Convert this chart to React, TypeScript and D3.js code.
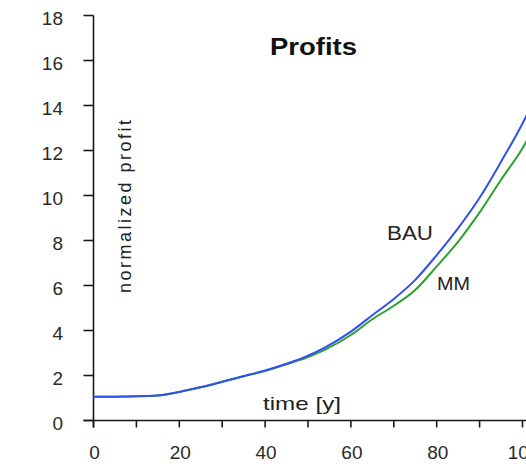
import React from "react";
import * as d3 from "d3";

const years = [0, 14, 20, 25, 30, 35, 40, 45, 50, 54, 60, 65, 70, 75, 80, 85, 90, 95, 100, 105];
const bauValues = [1.05, 1.1, 1.27, 1.48, 1.72, 1.97, 2.22, 2.52, 2.88, 3.25, 3.95, 4.68, 5.4, 6.25, 7.35, 8.55, 9.9, 11.5, 13.2, 15.2];
const mmValues = [1.05, 1.1, 1.27, 1.48, 1.72, 1.97, 2.2, 2.5, 2.82, 3.15, 3.8, 4.5, 5.1, 5.8, 6.85, 7.95, 9.25, 10.7, 12.1, 13.9];
const yTicks = [0, 2, 4, 6, 8, 10, 12, 14, 16, 18];
const xTicks = [0, 10, 20, 30, 40, 50, 60, 70, 80, 90, 100];
const xLabels = [0, 20, 40, 60, 80, 100];

const W = 526;
const H = 467;
const FONT = "'Liberation Sans', Arial, sans-serif";

export default function App() {
  const x = d3.scaleLinear().domain([0, 100]).range([93.5, 522.5]);
  const y = d3.scaleLinear().domain([0, 18]).range([420.5, 15.5]);
  const line = d3
    .line<number>()
    .x((_, i) => x(years[i]))
    .y((d) => y(d))
    .curve(d3.curveMonotoneX);

  return (
    <svg
      width={W}
      height={H}
      style={{ position: "absolute", left: 0, top: 0, background: "#fff" }}
      fontFamily={FONT}
    >
      <rect width={W} height={H} fill="#fff" />
      {/* y axis */}
      <line x1={x(0)} x2={x(0)} y1={y(18)} y2={y(0) + 7} stroke="#1a1a1a" strokeWidth={1.6} />
      {yTicks.map((t) => (
        <g key={"y" + t}>
          <line x1={x(0) - 10} x2={x(0)} y1={y(t)} y2={y(t)} stroke="#1a1a1a" strokeWidth={1.6} />
          <text x={63} y={y(t) + 9} textAnchor="end" fontSize={19} fill="#2a2a2a">
            {t}
          </text>
        </g>
      ))}
      {/* x axis */}
      <line x1={x(0) - 10} x2={W} y1={y(0)} y2={y(0)} stroke="#1a1a1a" strokeWidth={1.6} />
      {xTicks.map((t) => (
        <line key={"x" + t} x1={x(t)} x2={x(t)} y1={y(0)} y2={y(0) + 7} stroke="#1a1a1a" strokeWidth={1.6} />
      ))}
      {xLabels.map((t) => (
        <text key={"xl" + t} x={x(t) + 1} y={459} textAnchor="middle" fontSize={19} fill="#2a2a2a">
          {t}
        </text>
      ))}
      {/* lines */}
      <path d={line(mmValues) || ""} fill="none" stroke="#2ea02e" strokeWidth={2} />
      <path d={line(bauValues) || ""} fill="none" stroke="#3050f0" strokeWidth={2} />
      {/* texts */}
      <text x={270} y={55} fontSize={23} fontWeight="bold" fill="#111" textLength={87} lengthAdjust="spacingAndGlyphs">
        Profits
      </text>
      <text x={387} y={240} fontSize={20} fill="#222" textLength={46} lengthAdjust="spacingAndGlyphs">
        BAU
      </text>
      <text x={437} y={290} fontSize={18} fill="#222" textLength={33} lengthAdjust="spacingAndGlyphs">
        MM
      </text>
      <text x={263} y={410} fontSize={19} fill="#222" textLength={78} lengthAdjust="spacingAndGlyphs">
        time [y]
      </text>
      <text
        transform={`translate(131,${293}) rotate(-90)`}
        x={0}
        y={0}
        fontSize={18}
        fill="#222"
        textLength={173}
        lengthAdjust="spacing"
      >
        normalized profit
      </text>
    </svg>
  );
}
